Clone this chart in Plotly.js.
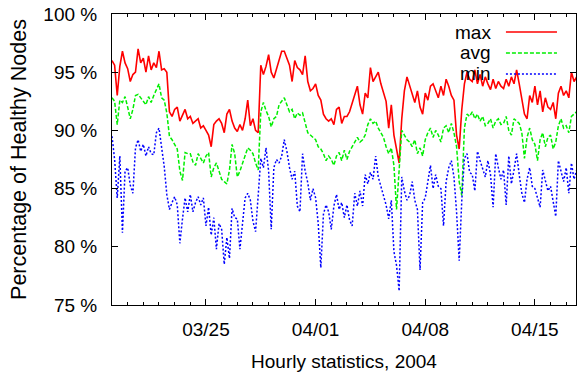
<!DOCTYPE html>
<html>
<head>
<meta charset="utf-8">
<script src="https://cdn.plot.ly/plotly-3.0.1.min.js"></script>
<style>html,body{margin:0;padding:0;background:#fff;}#chart{width:577px;height:372px;}</style>
</head>
<body>
<div id="chart"></div>
<script>
// sampling: every 4 hours starting 2004-03-19 00:00 (one row = one day)
const startUTC = Date.UTC(2004, 2, 19, 0, 0);
const stepHours = 4;

const maxPct = [
  96.0, 95.6, 93.0, 95.5, 96.8, 95.8,
  95.3, 94.2, 94.8, 95.0, 97.0, 95.8,
  96.2, 95.0, 96.4, 95.2, 95.8, 95.4,
  96.8, 95.2, 95.3, 95.0, 91.6, 91.2,
  91.8, 92.0, 90.8, 91.3, 91.8, 91.0,
  91.2, 90.6, 90.8, 91.0, 90.2, 90.4,
  90.0, 89.6, 88.6, 90.5, 90.8, 91.0,
  90.6, 89.8, 91.4, 91.8, 90.8, 90.2,
  89.9, 90.5, 90.0, 91.0, 92.6, 90.4,
  91.0, 90.0, 89.8, 95.6, 94.8, 95.5,
  96.5, 95.0, 94.5, 95.2, 96.0, 96.8,
  96.8, 96.2, 95.6, 94.2, 96.0, 95.4,
  95.2, 94.8, 96.4, 94.2, 93.4, 93.6,
  94.0, 93.0, 92.6, 91.4, 91.0, 90.8,
  91.0, 90.5, 91.8, 92.0, 90.6, 91.2,
  91.2, 91.6, 92.4, 93.0, 93.8, 92.2,
  91.4, 93.2, 92.8, 95.4, 94.2, 94.6,
  95.0, 94.0, 93.2, 92.5, 90.2, 92.2,
  89.6, 88.2, 87.2, 91.0, 93.4, 94.6,
  93.8, 93.0, 92.4, 93.4, 92.0, 91.4,
  93.2, 92.6, 93.8, 94.0, 93.4, 92.8,
  93.8, 93.0, 94.4, 93.8, 93.0, 92.6,
  89.6, 88.4, 91.8, 94.0, 95.0, 94.4,
  94.2, 95.2, 94.0, 94.8, 93.8, 94.6,
  94.0, 93.5, 94.4, 93.6, 94.2, 93.8,
  93.6, 94.4, 93.8, 94.6, 94.0, 95.2,
  94.0, 92.8, 91.4, 91.0, 93.0, 92.4,
  93.8, 92.2, 93.4, 91.6, 92.8, 92.0,
  91.8, 92.4, 91.0, 93.2, 93.8, 93.0,
  93.4, 92.8, 95.0, 94.2, 94.6
];

const avgPct = [
  92.8, 92.5, 90.5, 92.6, 92.4, 92.9,
  92.0, 91.0, 91.8, 93.0, 93.1, 92.8,
  92.6, 92.2, 92.9, 92.4, 93.0, 93.5,
  94.0, 92.8, 92.6, 91.5, 89.5, 89.2,
  88.8, 88.4, 86.5, 85.7, 88.1, 88.0,
  88.0, 87.3, 87.0, 88.0, 87.6, 87.2,
  87.8, 88.1, 86.0, 86.8, 87.2, 86.5,
  85.8, 85.6, 85.4, 86.6, 88.8, 88.0,
  86.0, 86.5, 87.2, 88.0, 88.5, 88.3,
  88.0, 87.2, 86.6, 91.6, 92.4, 91.7,
  91.2, 90.3, 91.0, 91.2, 92.2, 92.5,
  92.8, 92.2, 91.6, 91.8, 91.0, 91.5,
  91.3, 91.5, 90.6, 89.8, 89.6, 89.4,
  89.2, 88.6, 88.4, 88.0, 87.4, 87.8,
  87.5, 87.0, 87.8, 88.1, 87.4, 88.3,
  87.5, 88.2, 88.6, 89.0, 89.4, 89.0,
  89.2, 89.6, 90.5, 91.0, 90.6, 90.8,
  90.2, 89.8, 89.4, 88.6, 88.0, 88.5,
  87.0, 83.2, 86.5, 90.0, 89.6, 89.2,
  89.0, 88.6, 89.2, 88.0, 88.5, 87.8,
  89.2, 89.8, 90.2, 89.4, 90.0, 89.6,
  89.0, 90.2, 90.4, 89.8, 90.6, 89.8,
  88.6, 85.6, 84.4, 90.2, 91.4, 91.2,
  91.6, 91.0, 91.4, 90.8, 91.2, 90.4,
  90.6, 91.0, 90.2, 90.8, 91.0, 90.5,
  90.6, 91.2, 90.0, 89.6, 91.0, 90.8,
  90.6, 89.8, 87.6, 89.4, 90.2, 89.2,
  88.8, 87.4, 89.2, 89.8, 88.6, 89.4,
  89.6, 88.4, 89.0, 90.4, 91.0, 90.2,
  90.4, 89.8, 91.2, 91.4, 91.6
];

const minPct = [
  89.5, 87.5, 84.2, 87.8, 81.2, 86.5,
  86.8, 85.3, 84.6, 88.5, 89.2, 88.2,
  88.8, 87.8, 88.6, 88.0, 87.9, 89.8,
  90.2, 88.5, 86.9, 84.5, 83.2, 83.8,
  84.3, 83.6, 80.3, 82.4, 84.2, 83.0,
  84.5, 83.0, 83.8, 84.3, 83.6, 84.2,
  81.8, 83.4, 81.0, 82.5, 79.8, 82.0,
  81.5, 78.5, 80.8, 79.0, 83.3, 82.5,
  82.4, 79.8, 81.8, 84.2, 84.6, 84.0,
  82.2, 81.3, 84.4, 87.6, 86.8, 88.5,
  86.5, 81.5, 86.8, 87.5, 87.2, 87.8,
  89.2, 88.2, 86.8, 85.8, 86.5, 83.5,
  83.0, 88.0, 86.5, 85.5, 84.0, 85.0,
  84.2, 82.0, 78.2, 82.8, 83.6, 83.0,
  81.5, 83.5, 84.5, 83.2, 83.8, 82.5,
  83.6, 82.3, 81.8, 84.6, 83.5, 84.8,
  83.5, 86.2, 85.4, 86.4, 85.8, 87.8,
  86.0, 85.2, 84.5, 83.6, 82.4, 84.0,
  79.6, 78.4, 76.2, 86.0, 84.8, 84.0,
  84.4, 85.6, 84.0, 83.2, 78.0, 83.8,
  84.2, 85.6, 87.0, 85.0, 86.2, 85.2,
  85.0, 81.8, 85.6, 86.8, 87.4, 86.0,
  83.0, 78.8, 84.0, 87.6, 88.0, 86.4,
  86.2, 84.8, 88.2, 87.4, 86.6, 86.0,
  87.4, 86.2, 83.4, 88.0, 86.8, 85.8,
  86.6, 83.6, 87.8, 85.4, 86.6, 88.0,
  86.2, 84.6, 83.8, 85.8, 86.8, 85.2,
  85.0, 84.2, 83.4, 86.6, 85.8, 84.8,
  85.2, 84.0, 82.6, 87.4, 86.6, 85.6,
  86.8, 84.6, 87.2, 85.8, 86.6
];

const xTickVals = ['2004-03-25', '2004-04-01', '2004-04-08', '2004-04-15'];
const xTickText = ['03/25', '04/01', '04/08', '04/15'];
const yTickVals = [75, 80, 85, 90, 95, 100];
const yTickText = ['75 %', '80 %', '85 %', '90 %', '95 %', '100 %'];
const seriesNames = ['max', 'avg', 'min'];
const seriesColors = ['#ff0000', '#00ee00', '#0000ff'];
const seriesDash = ['solid', '4px,2px', '2px,2px'];

function stamp(i) {
  return new Date(startUTC + i * stepHours * 3600e3).toISOString().slice(0, 16).replace('T', ' ');
}
const times = maxPct.map((_, i) => stamp(i));

const FONT = 'Liberation Sans, Arial, Helvetica, sans-serif';
const seriesData = [maxPct, avgPct, minPct];

const traces = seriesData.map((vals, k) => ({
  type: 'scatter', mode: 'lines', x: times, y: vals, name: seriesNames[k],
  line: {color: seriesColors[k], width: k === 0 ? 1.6 : 1.5, dash: seriesDash[k]},
  showlegend: false, hoverinfo: 'skip'
}));

// gnuplot-style key: text on the left, line sample on the right
const keyY = [0.938, 0.866, 0.794];
const annotations = seriesNames.map((n, k) => ({
  xref: 'paper', yref: 'paper', x: 0.821, y: keyY[k], text: n, showarrow: false,
  xanchor: 'right', yanchor: 'middle', font: {family: FONT, size: 19, color: '#000'}
}));
const shapes = seriesNames.map((n, k) => ({
  type: 'line', xref: 'paper', yref: 'paper', x0: 0.849, x1: 0.959, y0: keyY[k], y1: keyY[k],
  line: {color: seriesColors[k], width: 1.5, dash: seriesDash[k]}
}));

const layout = {
  width: 577, height: 372,
  margin: {l: 112, r: 1, t: 14, b: 67},
  paper_bgcolor: '#fff', plot_bgcolor: '#fff',
  font: {family: FONT, size: 19, color: '#000'},
  xaxis: {
    type: 'date', range: ['2004-03-19 00:00', '2004-04-17 15:00'],
    tickmode: 'array', tickvals: xTickVals, ticktext: xTickText,
    ticks: 'inside', ticklen: 6, tickcolor: '#000', tickwidth: 1,
    minor: {dtick: 86400000, tick0: '2004-03-19', ticks: 'inside', ticklen: 3, tickcolor: '#000', showgrid: false},
    showline: true, linecolor: '#000', linewidth: 1, mirror: 'ticks',
    showgrid: false, zeroline: false, ticklabelstandoff: 7,
    tickfont: {family: FONT, size: 19, color: '#000'},
    title: {text: 'Hourly statistics, 2004', font: {family: FONT, size: 19, color: '#000'}, standoff: 17}
  },
  yaxis: {
    range: [75, 100], tickmode: 'array', tickvals: yTickVals, ticktext: yTickText,
    ticks: 'inside', ticklen: 6, tickcolor: '#000', tickwidth: 1,
    showline: true, linecolor: '#000', linewidth: 1, mirror: 'ticks',
    showgrid: false, zeroline: false, ticklabelstandoff: 10,
    tickfont: {family: FONT, size: 19, color: '#000'},
    title: {text: 'Percentage of Healthy Nodes', font: {family: FONT, size: 21.5, color: '#000'}, standoff: 10}
  },
  annotations: annotations,
  shapes: shapes,
  showlegend: false
};

Plotly.newPlot('chart', traces, layout, {staticPlot: true, displayModeBar: false});
</script>
</body>
</html>
